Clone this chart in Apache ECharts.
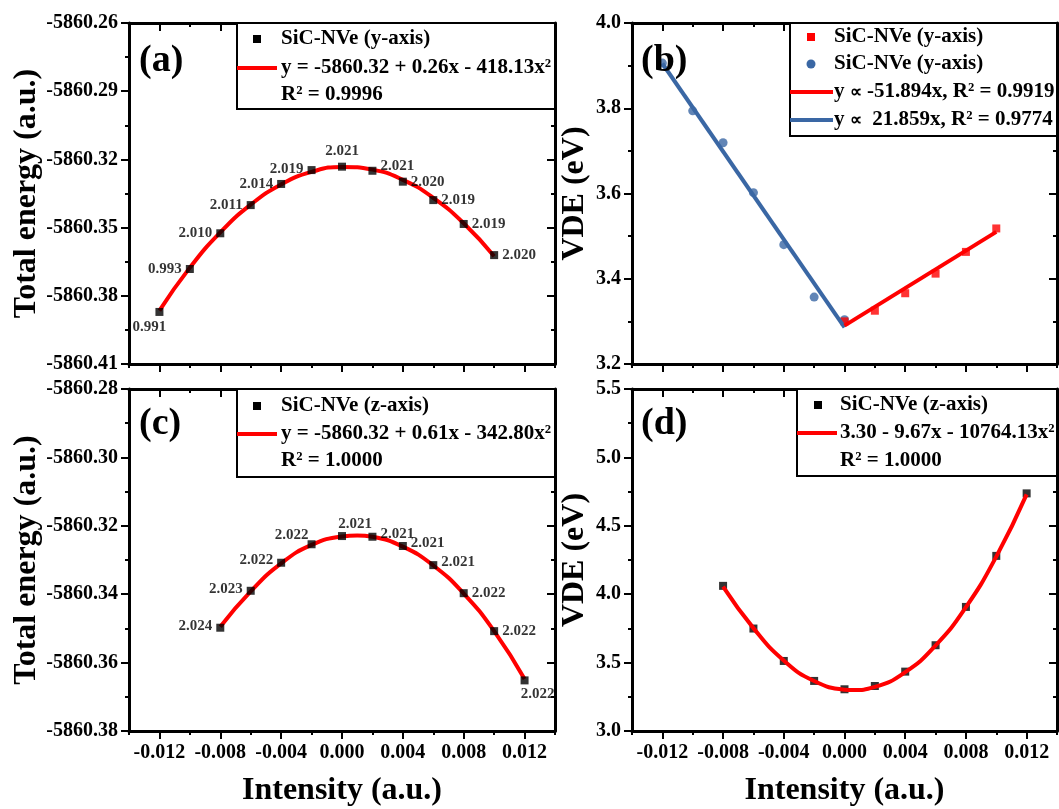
<!DOCTYPE html>
<html>
<head>
<meta charset="UTF-8">
<title>SiC-NVe energy and VDE</title>
<script src="https://cdn.jsdelivr.net/npm/echarts@6/dist/echarts.min.js"></script>
<style>
  html, body { margin: 0; padding: 0; background: #fff; }
  #chart { width: 1059px; height: 809px; }
</style>
</head>
<body>
<div id="chart"></div>
<script>
// ---- values ----
// (a) total energy, field along y
var xA = [-0.012, -0.010, -0.008, -0.006, -0.004, -0.002, 0.000, 0.002, 0.004, 0.006, 0.008, 0.010];
var energyA = [-5860.3871, -5860.3682, -5860.3525, -5860.3401, -5860.3308, -5860.3247, -5860.3232, -5860.3250, -5860.3298, -5860.3379, -5860.3484, -5860.3621];
var fitA = [-5860.3865, -5860.3676, -5860.3521, -5860.3399, -5860.3310, -5860.3255, -5860.3233, -5860.3245, -5860.3290, -5860.3369, -5860.3481, -5860.3626];
var tagA = ['0.991', '0.993', '2.010', '2.011', '2.014', '2.019', '2.021', '2.021', '2.020', '2.019', '2.019', '2.020'];

// (b) VDE, field along y, two branches + linear fits
var xBneg = [-0.012, -0.010, -0.008, -0.006, -0.004, -0.002, 0.000];
var vdeBneg = [3.906, 3.794, 3.719, 3.602, 3.480, 3.357, 3.304];
var xBpos = [0.000, 0.002, 0.004, 0.006, 0.008, 0.010];
var vdeBpos = [3.300, 3.325, 3.366, 3.412, 3.463, 3.518];
var xFitBneg = [-0.012, 0.000];
var fitBneg = [3.905, 3.286];
var xFitBpos = [0.000, 0.010];
var fitBpos = [3.290, 3.510];

// (c) total energy, field along z
var xC = [-0.008, -0.006, -0.004, -0.002, 0.000, 0.002, 0.004, 0.006, 0.008, 0.010, 0.012];
var energyC = [-5860.3498, -5860.3390, -5860.3308, -5860.3254, -5860.3230, -5860.3232, -5860.3259, -5860.3315, -5860.3397, -5860.3508, -5860.3652];
var tagC = ['2.024', '2.023', '2.022', '2.022', '2.021', '2.021', '2.021', '2.021', '2.022', '2.022', '2.022'];
// fitted curve, read with its top
var xFitC = [-0.008, -0.006, -0.004, -0.002, 0.000, 0.001, 0.002, 0.004, 0.006, 0.008, 0.010, 0.012];
var fitC = [-5860.3495, -5860.3392, -5860.3310, -5860.3256, -5860.3231, -5860.3228, -5860.3232, -5860.3261, -5860.3316, -5860.3398, -5860.3508, -5860.3648];

// (d) VDE, field along z
var xD = [-0.008, -0.006, -0.004, -0.002, 0.000, 0.002, 0.004, 0.006, 0.008, 0.010, 0.012];
var vdeD = [4.061, 3.749, 3.512, 3.366, 3.305, 3.329, 3.434, 3.627, 3.907, 4.280, 4.737];
// fitted curve, read with its bottom
var xFitD = [-0.008, -0.006, -0.004, -0.002, 0.000, 0.0005, 0.002, 0.004, 0.006, 0.008, 0.010, 0.012];
var fitD = [4.055, 3.752, 3.515, 3.365, 3.302, 3.299, 3.322, 3.430, 3.625, 3.905, 4.275, 4.730];

var xTicks = [-0.012, -0.008, -0.004, 0.000, 0.004, 0.008, 0.012];

// label placement next to the points (style, not data)
var posA = ['bottom', 'left', 'left', 'left', 'left', 'left', 'top', 'right', 'right', 'right', 'right', 'right'];
var offA = [[-10, 0], [0, 0], [0, 0], [0, 0], [0, 0], [0, -1], [0, 0], [0, -5], [0, 0], [0, 0], [0, 0], [0, 0]];
var posC = ['left', 'left', 'left', 'left', 'top', 'right', 'right', 'right', 'right', 'right', 'bottom'];
var offC = [[0, -2], [0, -2], [0, -3], [5, -9], [13, 4], [0, -3], [0, -3], [0, -3], [0, 0], [0, 0], [13, -2]];

var SERIF = '"Liberation Serif", "Times New Roman", serif';
var BLUE = '#3a67a4';
var RED = '#ff0000';

var chart = echarts.init(document.getElementById('chart'), null, {renderer: 'canvas'});

function xAxes(grid, showLabels) {
  var base = {type: 'value', gridIndex: grid, min: -0.014, max: 0.014, interval: 0.002,
    splitLine: {show: false}, axisLabel: {show: false}};
  var line = {onZero: false, lineStyle: {color: '#000', width: 3}};
  var tk = {color: '#000', width: 2};
  return [
    Object.assign({}, base, {position: 'bottom', axisLine: line,
      axisTick: {inside: false, length: 4, lineStyle: tk},
      axisLabel: {show: showLabels, customValues: xTicks, margin: 12, color: '#000',
        fontFamily: SERIF, fontWeight: 'bold', fontSize: 20,
        formatter: function (v) { return v.toFixed(3); }},
      name: showLabels ? 'Intensity (a.u.)' : '', nameLocation: 'middle', nameGap: 44,
      nameTextStyle: {fontFamily: SERIF, fontWeight: 'bold', fontSize: 32, color: '#000'}}),
    Object.assign({}, base, {position: 'bottom', axisLine: {show: false, onZero: false},
      axisTick: {inside: false, length: 8, customValues: xTicks, lineStyle: tk}}),
    Object.assign({}, base, {position: 'top', axisLine: line,
      axisTick: {inside: true, length: 4, lineStyle: tk}}),
    Object.assign({}, base, {position: 'top', axisLine: {show: false, onZero: false},
      axisTick: {inside: true, length: 8, customValues: xTicks, lineStyle: tk}})
  ];
}

function yAxes(grid, min, max, step, digits, name, gap) {
  var line = {onZero: false, lineStyle: {color: '#000', width: 3}};
  var tk = {color: '#000', width: 2};
  var base = {type: 'value', gridIndex: grid, min: min, max: max, interval: step, splitLine: {show: false}};
  return [
    Object.assign({}, base, {position: 'left', axisLine: line,
      axisTick: {inside: false, length: 8, lineStyle: tk},
      minorTick: {show: true, splitNumber: 2, length: 4, lineStyle: tk},
      axisLabel: {margin: 11, color: '#000', fontFamily: SERIF, fontWeight: 'bold', fontSize: 20,
        formatter: function (v) { return v.toFixed(digits); }},
      name: name, nameLocation: 'middle', nameGap: gap, nameRotate: 90,
      nameTextStyle: {fontFamily: SERIF, fontWeight: 'bold', fontSize: 32, color: '#000'}}),
    Object.assign({}, base, {position: 'right', axisLine: line,
      axisTick: {inside: true, length: 8, lineStyle: tk},
      minorTick: {show: true, splitNumber: 2, length: 4, lineStyle: tk},
      axisLabel: {show: false}})
  ];
}

function pts(xs, ys) { return xs.map(function (x, i) { return [x, ys[i]]; }); }

function tagged(xs, ys, tags, pos, off) {
  return xs.map(function (x, i) {
    return {value: [x, ys[i]], label: {show: true, formatter: tags[i], position: pos[i], offset: off[i]}};
  });
}

var tagLabel = {fontFamily: SERIF, fontWeight: 'bold', fontSize: 15, color: '#000', distance: 4};

function fitLine(g, name, xs, ys, color, smooth) {
  return {type: 'line', name: name, xAxisIndex: g * 4, yAxisIndex: g * 2, data: pts(xs, ys),
    smooth: smooth, symbol: 'none', lineStyle: {color: color, width: 4}, z: 3, silent: true};
}

// ---- legend boxes and panel letters (drawn as graphics) ----
var legendFont = 'bold 21px ' + SERIF;
function txt(x, y, s, font) {
  return {type: 'text', x: x, y: y, z: 100,
    style: {text: s, font: font || legendFont, fill: '#000', align: 'left', verticalAlign: 'middle'}};
}
// text with a narrower proportional sign
function propTxt(x, y, s) {
  return {type: 'text', x: x, y: y, z: 100,
    style: {text: s, font: legendFont, fill: '#000', align: 'left', verticalAlign: 'middle',
      rich: {p: {font: 'bold 17px ' + SERIF, fill: '#000', padding: [2, 0, 0, 0]}}}};
}
function box(l, t, r, b) {
  return {type: 'rect', z: 90, shape: {x: l, y: t, width: r - l, height: b - t},
    style: {fill: '#fff', stroke: '#000', lineWidth: 2}};
}
function sq(cx, cy, color) {
  return {type: 'rect', z: 100, shape: {x: cx - 4, y: cy - 4, width: 8, height: 8}, style: {fill: color}};
}
function dot(cx, cy, color) {
  return {type: 'circle', z: 100, shape: {cx: cx, cy: cy, r: 4.5}, style: {fill: color}};
}
function seg(x1, x2, y, color) {
  return {type: 'line', z: 100, shape: {x1: x1, y1: y, x2: x2, y2: y}, style: {stroke: color, lineWidth: 4}};
}
var letterFont = 'bold 38px ' + SERIF;

var graphics = [
  // (a)
  box(237, 23, 555, 109),
  sq(257, 39, '#000'), txt(281, 39, 'SiC-NVe (y-axis)'),
  seg(237, 277, 68, RED), txt(281, 68, 'y = -5860.32 + 0.26x - 418.13x²'),
  txt(281, 95, 'R² = 0.9996'),
  txt(139, 61, '(a)', letterFont),
  // (b)
  box(790, 23, 1057, 136),
  sq(811, 37, RED), txt(834, 37, 'SiC-NVe (y-axis)'),
  dot(811, 64, BLUE), txt(834, 64, 'SiC-NVe (y-axis)'),
  seg(790, 833, 92, RED), propTxt(834, 92, 'y {p|∝} -51.894x, R² = 0.9919'),
  seg(790, 833, 120, BLUE), propTxt(834, 120, 'y {p|∝}  21.859x, R² = 0.9774'),
  txt(641, 61, '(b)', letterFont),
  // (c)
  box(237, 389, 555, 477),
  sq(257, 406, '#000'), txt(281, 406, 'SiC-NVe (z-axis)'),
  seg(237, 277, 434, RED), txt(281, 434, 'y = -5860.32 + 0.61x - 342.80x²'),
  txt(281, 461, 'R² = 1.0000'),
  txt(139, 424, '(c)', letterFont),
  // (d)
  box(797, 389, 1057, 476),
  sq(818, 405, '#000'), txt(840, 405, 'SiC-NVe (z-axis)'),
  seg(797, 837, 433, RED), txt(840, 433, '3.30 - 9.67x - 10764.13x²'),
  txt(840, 461, 'R² = 1.0000'),
  txt(641, 424, '(d)', letterFont)
];

var option = {
  backgroundColor: '#fff',
  animation: false,
  grid: [
    {left: 129, top: 23, width: 426, height: 341},
    {left: 632, top: 23, width: 425, height: 341},
    {left: 129, top: 389, width: 426, height: 342},
    {left: 632, top: 389, width: 425, height: 342}
  ],
  xAxis: [].concat(xAxes(0, false), xAxes(1, false), xAxes(2, true), xAxes(3, true)),
  yAxis: [].concat(
    yAxes(0, -5860.41, -5860.26, 0.03, 2, 'Total energy (a.u.)', 84),
    yAxes(1, 3.2, 4.0, 0.2, 1, 'VDE (eV)', 41),
    yAxes(2, -5860.38, -5860.28, 0.02, 2, 'Total energy (a.u.)', 84),
    yAxes(3, 3.0, 5.5, 0.5, 1, 'VDE (eV)', 41)
  ),
  series: [
    fitLine(0, 'fit a', xA, fitA, RED, true),
    {type: 'scatter', name: 'SiC-NVe (y-axis)', xAxisIndex: 0, yAxisIndex: 0, symbol: 'rect', symbolSize: 8,
      itemStyle: {color: '#000'}, label: tagLabel, data: tagged(xA, energyA, tagA, posA, offA), z: 4},

    {type: 'scatter', name: 'neg', xAxisIndex: 4, yAxisIndex: 2, symbol: 'circle', symbolSize: 9,
      itemStyle: {color: BLUE}, data: pts(xBneg, vdeBneg), z: 2},
    {type: 'scatter', name: 'pos', xAxisIndex: 4, yAxisIndex: 2, symbol: 'rect', symbolSize: 8,
      itemStyle: {color: RED}, data: pts(xBpos, vdeBpos), z: 2},
    fitLine(1, 'fit b neg', xFitBneg, fitBneg, BLUE, false),
    fitLine(1, 'fit b pos', xFitBpos, fitBpos, RED, false),

    fitLine(2, 'fit c', xFitC, fitC, RED, true),
    {type: 'scatter', name: 'SiC-NVe (z-axis)', xAxisIndex: 8, yAxisIndex: 4, symbol: 'rect', symbolSize: 8,
      itemStyle: {color: '#000'}, label: tagLabel, data: tagged(xC, energyC, tagC, posC, offC), z: 4},

    {type: 'scatter', name: 'vde z', xAxisIndex: 12, yAxisIndex: 6, symbol: 'rect', symbolSize: 8,
      itemStyle: {color: '#000'}, data: pts(xD, vdeD), z: 2},
    fitLine(3, 'fit d', xFitD, fitD, RED, true)
  ],
  graphic: graphics
};

chart.setOption(option);
</script>
</body>
</html>
